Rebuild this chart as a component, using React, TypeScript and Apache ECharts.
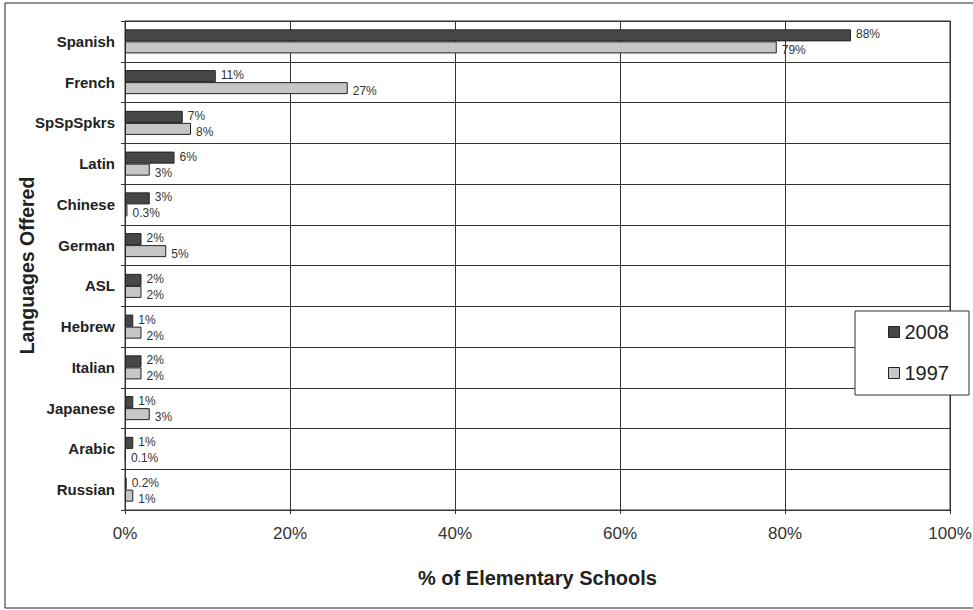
import React, { useEffect, useRef } from "react";
import * as echarts from "echarts";

const categories = [
  "Spanish",
  "French",
  "SpSpSpkrs",
  "Latin",
  "Chinese",
  "German",
  "ASL",
  "Hebrew",
  "Italian",
  "Japanese",
  "Arabic",
  "Russian",
];
const values2008 = [88, 11, 7, 6, 3, 2, 2, 1, 2, 1, 1, 0.2];
const values1997 = [79, 27, 8, 3, 0.3, 5, 2, 2, 2, 3, 0.1, 1];
const seriesNames = ["2008", "1997"];
const xTicks = [0, 20, 40, 60, 80, 100];

const FONT = "'Liberation Sans', Arial, Helvetica, sans-serif";

export default function App() {
  const ref = useRef<HTMLDivElement>(null);
  useEffect(() => {
    if (!ref.current) return;
    const chart = echarts.init(ref.current, undefined, { renderer: "svg" });
    const fmt = (p: any) => {
      const v = Number(p.value);
      return (v < 1 ? v.toFixed(1) : String(v)) + "%";
    };
    const labelBase = {
      show: true,
      position: "right",
      distance: 5,
      color: "#333",
      fontSize: 12,
      fontFamily: FONT,
      formatter: fmt,
    };
    const option: any = {
      animation: false,
      backgroundColor: "#fff",
      textStyle: { fontFamily: FONT },
      graphic: [
        {
          type: "rect",
          shape: { x: 5, y: 3, width: 1000, height: 605 },
          style: { fill: "none", stroke: "#222", lineWidth: 1 },
          z: -1,
        },
      ],
      grid: {
        left: 125,
        right: 23,
        top: 21,
        bottom: 100,
        outerBoundsMode: "none",
        containLabel: false,
        show: true,
        borderColor: "#333",
        borderWidth: 1,
      },
      legend: {
        data: seriesNames,
        orient: "vertical",
        left: 855,
        top: 311,
        padding: [11, 20, 12, 33],
        itemGap: 21,
        itemWidth: 11,
        itemHeight: 11,
        icon: "rect",
        backgroundColor: "#fff",
        borderColor: "#333",
        borderWidth: 1,
        textStyle: { fontSize: 20, color: "#222", fontFamily: FONT },
        itemStyle: { borderColor: "#222", borderWidth: 1 },
      },
      xAxis: {
        type: "value",
        min: xTicks[0],
        max: xTicks[xTicks.length - 1],
        interval: 20,
        name: "% of Elementary Schools",
        nameLocation: "middle",
        nameGap: 58,
        nameMoveOverlap: false,
        nameTextStyle: {
          fontSize: 20,
          fontWeight: "bold",
          color: "#222",
          fontFamily: FONT,
        },
        axisLine: { show: true, lineStyle: { color: "#333", width: 1 } },
        axisTick: { show: true, length: 4, lineStyle: { color: "#333" } },
        axisLabel: {
          formatter: "{value}%",
          fontSize: 17,
          color: "#333",
          margin: 15,
          fontFamily: FONT,
        },
        splitLine: { show: true, lineStyle: { color: "#333", width: 1 } },
      },
      yAxis: {
        type: "category",
        data: categories,
        inverse: true,
        name: "Languages Offered",
        nameLocation: "middle",
        nameRotate: 90,
        nameGap: 88,
        nameMoveOverlap: false,
        nameTextStyle: {
          fontSize: 19.5,
          fontWeight: "bold",
          color: "#222",
          fontFamily: FONT,
        },
        axisLine: { show: true, lineStyle: { color: "#333", width: 1 } },
        axisTick: { show: true, length: 4, lineStyle: { color: "#333" } },
        axisLabel: {
          fontSize: 15,
          fontWeight: "bold",
          color: "#222",
          margin: 10,
          fontFamily: FONT,
        },
        splitLine: {
          show: true,
          interval: 0,
          lineStyle: { color: "#333", width: 1 },
        },
      },
      series: [
        {
          name: seriesNames[0],
          type: "bar",
          data: values2008,
          barGap: "0%",
          barCategoryGap: "41%",
          itemStyle: { color: "#474747", borderColor: "#222", borderWidth: 1 },
          label: { ...labelBase, offset: [0, -1] },
        },
        {
          name: seriesNames[1],
          type: "bar",
          data: values1997,
          barGap: "0%",
          barCategoryGap: "41%",
          itemStyle: { color: "#c6c6c6", borderColor: "#222", borderWidth: 1 },
          label: { ...labelBase, offset: [0, 3] },
        },
      ],
    };
    chart.setOption(option);
    return () => chart.dispose();
  }, []);
  return (
    <div
      ref={ref}
      style={{ position: "absolute", left: 0, top: 0, width: 973, height: 610 }}
    />
  );
}
